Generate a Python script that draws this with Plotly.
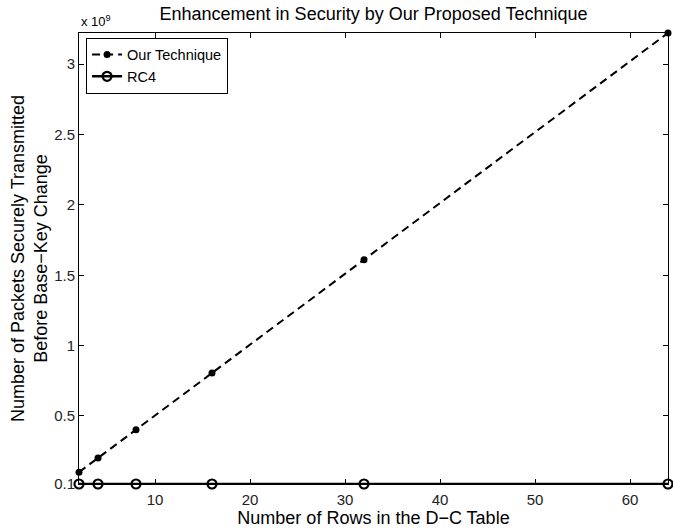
import plotly.graph_objects as go

# Table sizes (rows in the D-C table)
rows = [2, 4, 8, 16, 32, 64]
# Packets that can be sent securely before the base key must change
our_technique = [100663296, 201326592, 402653184, 805306368, 1610612736, 3221225472]
rc4 = [16777216, 16777216, 16777216, 16777216, 16777216, 16777216]

y_tick_vals = [16777216, 0.5e9, 1.0e9, 1.5e9, 2.0e9, 2.5e9, 3.0e9]
y_tick_text = ["0.1", "0.5", "1", "1.5", "2", "2.5", "3"]
x_tick_vals = [10, 20, 30, 40, 50, 60]

font_family = "Liberation Sans, Arial, Helvetica, sans-serif"

fig = go.Figure()
fig.add_trace(go.Scatter(
    x=rows, y=our_technique, name="Our Technique", mode="lines+markers",
    line=dict(color="black", width=2, dash="8px,5px"),
    marker=dict(symbol="circle", size=7, color="black"),
    cliponaxis=False,
))
fig.add_trace(go.Scatter(
    x=rows, y=rc4, name="RC4", mode="lines+markers",
    line=dict(color="black", width=2.5),
    marker=dict(symbol="circle-open", size=9, color="black", line=dict(width=2.2)),
    cliponaxis=False,
))

axis_common = dict(
    showgrid=False, zeroline=False, showline=True, linecolor="black", linewidth=1,
    mirror="ticks", ticks="inside", ticklen=5, tickcolor="black", tickwidth=1,
    tickfont=dict(size=15, color="#222222", family=font_family),
)

fig.update_layout(
    width=673, height=530,
    margin=dict(l=79, r=5, t=33, b=46),
    paper_bgcolor="white", plot_bgcolor="white",
    font=dict(family=font_family, color="black", size=15),
    title=dict(text="Enhancement in Security by Our Proposed Technique",
               x=(79 + 668) / 2 / 673, xanchor="center", y=1 - 14 / 530, yanchor="middle",
               font=dict(size=18, color="black", family=font_family)),
    xaxis=dict(range=[2, 64], tickvals=x_tick_vals, ticklabelstandoff=2,
               title=dict(text="Number of Rows in the D\u2212C Table", standoff=2,
                          font=dict(size=18, color="black", family=font_family)),
               **axis_common),
    yaxis=dict(range=[16777216, 3221225472], tickvals=y_tick_vals, ticktext=y_tick_text,
               title=dict(text="Number of Packets Securely Transmitted<br>Before Base\u2212Key Change",
                          standoff=1,
                          font=dict(size=18, color="black", family=font_family)),
               **axis_common),
    legend=dict(x=0.012, y=0.99, xanchor="left", yanchor="top",
                bordercolor="black", borderwidth=1, bgcolor="white",
                font=dict(size=14.5, color="black", family=font_family),
                tracegroupgap=0, itemwidth=30),
    showlegend=True,
)

fig.add_annotation(text="x 10<sup>9</sup>", xref="paper", yref="paper",
                   x=0, y=1, xanchor="left", yanchor="bottom", yshift=2,
                   showarrow=False, font=dict(size=13, color="black", family=font_family))

fig.write_html("out.html")
